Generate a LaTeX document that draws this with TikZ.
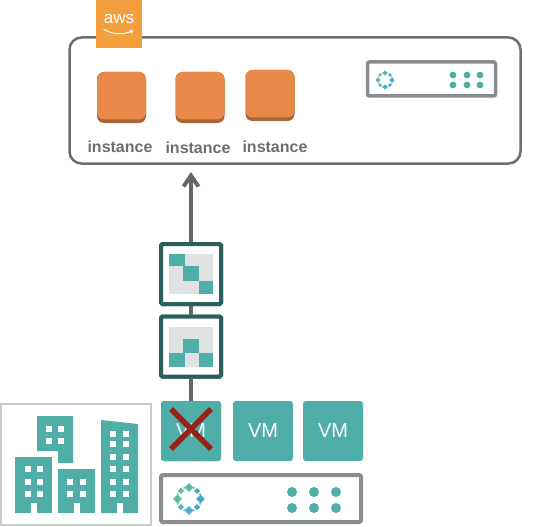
\documentclass[tikz,border=0pt]{standalone}
\usepackage{fontspec}
\setmainfont{Liberation Sans}
\usetikzlibrary{arrows.meta}
\definecolor{teal1}{HTML}{4FAFA8}
\definecolor{dteal}{HTML}{2A5F5C}
\definecolor{gline}{HTML}{63666A}
\definecolor{srv}{HTML}{8B8C8F}
\definecolor{orng}{HTML}{E8894A}
\definecolor{dorng}{HTML}{A9633A}
\definecolor{awsor}{HTML}{F39F3D}
\definecolor{lgrey}{HTML}{E0E1E2}
\definecolor{frameg}{HTML}{C9CACA}
\definecolor{lblg}{HTML}{6D6E71}
\definecolor{xred}{HTML}{9A2116}
\definecolor{logog}{HTML}{5DBB9B}
\definecolor{logob}{HTML}{45A6DA}
\tikzset{
  x=1pt,y=-1pt,
  instbase/.style={fill=dorng,rounded corners=7pt,minimum width=49pt,minimum height=51pt,inner sep=0pt},
  insttop/.style={fill=orng,rounded corners=7pt,minimum width=49pt,minimum height=47.5pt,inner sep=0pt},
  instlabel/.style={text=lblg,font=\fontsize{16}{18}\selectfont\bfseries,inner sep=0pt},
  filterbox/.style={draw=dteal,line width=4pt,fill=white,rounded corners=1.5pt,minimum size=60pt,inner sep=0pt},
  vmbox/.style={fill=teal1,rounded corners=3pt,minimum size=60pt,inner sep=0pt,text=white,font=\fontsize{20}{22}\selectfont},
  win/.style={fill=white,draw=none},
  tealcell/.style={fill=teal1,draw=none},
}
% logo: centre x, y, radius
\newcommand{\ringlogo}[3]{%
  \foreach \a/\s in {0/0.38,45/0.27,90/0.38,135/0.27,180/0.38,225/0.27,270/0.38,315/0.27}{
    \pgfmathtruncatemacro{\mixv}{50+50*cos(\a-35)}
    \colorlet{lc}{logob!\mixv!logog}
    \fill[lc] ({#1+#3*cos(\a)+\s*#3},{#2+#3*sin(\a)}) -- ++({-\s*#3},{-\s*#3}) -- ++({-\s*#3},{\s*#3}) -- ++({\s*#3},{\s*#3}) -- cycle;
    \fill[lc!75!white] ({#1+1.05*#3*cos(\a+22.5)},{#2+1.05*#3*sin(\a+22.5)}) circle (0.12*#3);
  }
}
\newcommand{\winrect}[2]{\fill[win] (#1-3,#2-3) rectangle (#1+3,#2+3);}
\begin{document}
\begin{tikzpicture}
\useasboundingbox (0,0) rectangle (536,527);
% AWS box
\node[draw=lblg,line width=2.5pt,rounded corners=12pt,minimum width=451pt,minimum height=126pt,inner sep=0pt] (cloud) at (295,100.5) {};
\node[fill=awsor,minimum width=46pt,minimum height=48pt,inner sep=0pt] (awstile) at (119,24) {};
\node[text=white,font=\fontsize{17}{18}\selectfont,inner sep=0pt] (awstext) at (119,19) {aws};
\draw[white,line width=1pt,-{Straight Barb[length=2pt,width=4pt]}] (103.5,29) .. controls (112,35) and (124,35) .. (133,30.5);
% instances
\node[instbase] (i1b) at (121.5,97.5) {};
\node[insttop] (i1) at (121.5,95.7) {};
\node[instbase] (i2b) at (200,97.5) {};
\node[insttop] (i2) at (200,95.7) {};
\node[instbase] (i3b) at (270,95.5) {};
\node[insttop] (i3) at (270,93.7) {};
\node[instlabel] (l1) at (120,147) {instance};
\node[instlabel] (l2) at (198,148) {instance};
\node[instlabel] (l3) at (275,147) {instance};
% top server
\node[draw=srv,line width=3.5pt,rounded corners=2pt,minimum width=128pt,minimum height=34pt,inner sep=0pt] (srvtop) at (431.5,79) {};
\ringlogo{385}{80}{7}
\foreach \px in {453,467,480}\foreach \py in {75,85}{\fill[teal1] (\px,\py) circle (3.4);}
% VMs
\node[vmbox] (vm1) at (191,431) {VM};
\node[vmbox] (vm2) at (263,431) {VM};
\node[vmbox] (vm3) at (333,431) {VM};
% connectors and filter boxes
\node[filterbox] (f1) at (191,274) {};
\node[filterbox] (f2) at (191,346.5) {};
\coordinate (tip) at (191,172);
\draw[gline,line width=4pt] (vm1) -- (f2);
\draw[gline,line width=4pt] (f2) -- (f1);
\draw[gline,line width=4pt,-{Straight Barb[length=11pt,width=15pt,line width=4pt]}] (f1) -- (tip);
\node[filterbox] at (f1) {};
\node[filterbox] at (f2) {};
\node[vmbox] at (vm1) {VM};
% filter patterns
\fill[lgrey] (169,254) rectangle (213,294);
\fill[tealcell] (169,254) rectangle (185,266);
\fill[tealcell] (183,266) rectangle (199,281);
\fill[tealcell] (199,281) rectangle (213,294);
\fill[lgrey] (169,327) rectangle (213,367);
\fill[tealcell] (183,339) rectangle (199,353);
\fill[tealcell] (169,353) rectangle (185,367);
\fill[tealcell] (199,353) rectangle (213,367);
% red cross
\draw[xred,line width=5.5pt] (171,409) -- (211,449);
\draw[xred,line width=5.5pt] (211,409) -- (171,449);
% bottom server
\node[draw=srv,line width=4pt,rounded corners=2pt,minimum width=200pt,minimum height=47pt,inner sep=0pt] (srvbot) at (261,498.5) {};
\ringlogo{189}{499}{11.5}
\foreach \px in {292,314,336}\foreach \py in {492,508}{\fill[teal1] (\px,\py) circle (5);}
% buildings
\node[draw=frameg,line width=2pt,minimum width=150pt,minimum height=121pt,inner sep=0pt] (campus) at (76,464) {};
\fill[teal1] (37,416) -- (73,416) -- (73,463) -- (58,463) -- (58,451) -- (37,451) -- cycle;
\fill[teal1] (15,457) rectangle (52,513);
\fill[teal1] (58,469) rectangle (95,513);
\fill[teal1] (101,420) -- (138,424) -- (138,513) -- (101,513) -- cycle;
\foreach \px in {49,61}\foreach \py in {429,441}{\winrect{\px}{\py}}
\foreach \px in {28,40}\foreach \py in {469,482,494}{\winrect{\px}{\py}}
\foreach \px in {70,83}\foreach \py in {482,494}{\winrect{\px}{\py}}
\foreach \px in {113,126}\foreach \py in {434,444,457,469,482,494}{\winrect{\px}{\py}}
\fill[white] (31,503) rectangle (37,513.5);
\fill[white] (74,503) rectangle (80,513.5);
\fill[white] (117,503) rectangle (123,513.5);
\end{tikzpicture}
\end{document}
